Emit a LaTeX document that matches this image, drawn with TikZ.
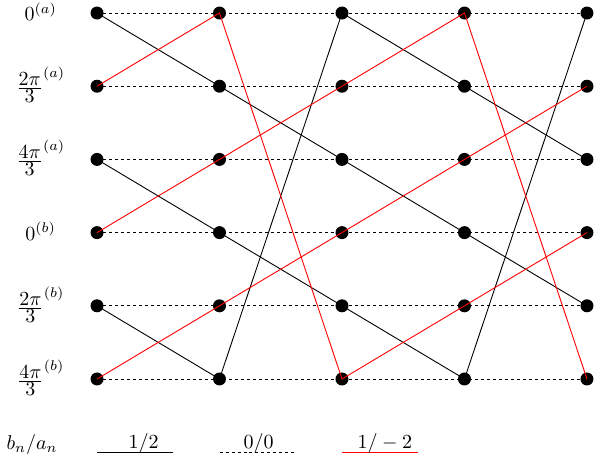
\documentclass[tikz,border=0pt]{standalone}
\usepackage{amsmath}
\usetikzlibrary{positioning}

\newcommand{\phs}[2]{\frac{\displaystyle #1}{\displaystyle 3}^{(#2)}}

\begin{document}
\begin{tikzpicture}[
  x=61.25pt, y=36.6pt,
  dot/.style={circle, fill=black, inner sep=0pt, minimum size=6.5pt},
  bl/.style={black, line width=0.45pt},
  rd/.style={red, line width=0.45pt},
  dsh/.style={dash pattern=on 1.5pt off 1.5pt, line width=0.45pt},
  lbl/.style={inner sep=1pt}
]
\useasboundingbox (-0.792,0.178) rectangle (4.090,-6.107);
% dots
\foreach \c in {0,...,4}
  \foreach \r in {0,...,5}
    \node[dot] (v\c\r) at (\c,-\r) {};
% dashed rows
\foreach \r in {0,...,5}
  \draw[dsh] (v0\r.center) -- (v4\r.center);
% row labels
\node[lbl] (la0) at (-0.46,0.02) {$0^{(a)}$};
\node[lbl] (la1) at (-0.46,-0.98) {$\phs{2\pi}{a}$};
\node[lbl] (la2) at (-0.46,-1.98) {$\phs{4\pi}{a}$};
\node[lbl] (lb0) at (-0.46,-2.98) {$0^{(b)}$};
\node[lbl] (lb1) at (-0.46,-3.98) {$\phs{2\pi}{b}$};
\node[lbl] (lb2) at (-0.46,-4.98) {$\phs{4\pi}{b}$};
% black edges
\draw[bl] (v00.center) -- (v11.center) -- (v22.center) -- (v33.center) -- (v44.center);
\draw[bl] (v02.center) -- (v13.center) -- (v24.center) -- (v35.center);
\draw[bl] (v04.center) -- (v15.center) -- (v20.center) -- (v31.center) -- (v42.center);
\draw[bl] (v35.center) -- (v40.center);
% red edges
\draw[rd] (v01.center) -- (v10.center) -- (v25.center) -- (v34.center) -- (v43.center);
\draw[rd] (v03.center) -- (v12.center) -- (v21.center) -- (v30.center) -- (v45.center);
\draw[rd] (v05.center) -- (v14.center) -- (v23.center) -- (v32.center) -- (v41.center);
% legend
\node (ba) at (-0.53,-5.89) {$b_n/a_n$};
\coordinate (s0) at (0,-6.01);    \coordinate (e0) at (0.62,-6.01);
\coordinate (s1) at (1,-6.01);    \coordinate (e1) at (1.62,-6.01);
\coordinate (s2) at (2,-6.01);    \coordinate (e2) at (2.62,-6.01);
\draw[bl] (s0) -- (e0);
\draw[dsh] (s1) -- (e1);
\draw[rd] (s2) -- (e2);
\node[anchor=base] (t0) at (0.38,-5.956) {$1/2$};
\node[anchor=base] (t1) at (1.32,-5.956) {$0/0$};
\node[anchor=base] (t2) at (2.35,-5.956) {$1/-2$};
\end{tikzpicture}
\end{document}
